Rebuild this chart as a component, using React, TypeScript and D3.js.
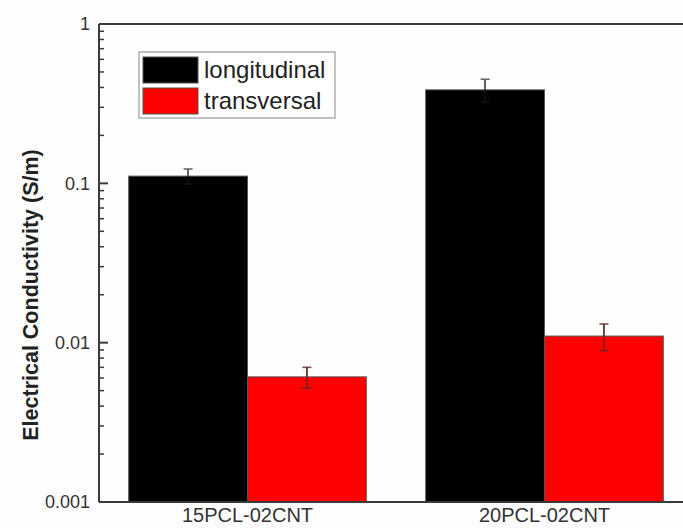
import React from "react";
import * as d3 from "d3";

const categories = ["15PCL-02CNT", "20PCL-02CNT"];
const seriesNames = ["longitudinal", "transversal"];
const seriesColors = ["#000000", "#ff0000"];
const longitudinal = [0.111, 0.386];
const longitudinalErr = [0.012, 0.064];
const transversal = [0.0061, 0.011];
const transversalErr = [0.0009, 0.0021];
const yTicks = [1, 0.1, 0.01, 0.001];
const yTickLabels = ["1", "0.1", "0.01", "0.001"];

const W = 683;
const H = 528;
const left = 99;
const right = 693;
const top = 24;
const bottom = 502;

export default function App() {
  const x = d3.scaleBand<string>().domain(categories).range([left, right]).paddingInner(0.2).paddingOuter(0.1);
  const xs = d3.scaleBand<string>().domain(seriesNames).range([0, x.bandwidth()]);
  const y = d3.scaleLog().domain([0.001, 1]).range([bottom, top]);

  const minor: number[] = [];
  for (const dec of [0.001, 0.01, 0.1]) {
    for (let k = 2; k <= 9; k++) minor.push(dec * k);
  }

  const series = [
    { name: seriesNames[0], vals: longitudinal, errs: longitudinalErr, color: seriesColors[0] },
    { name: seriesNames[1], vals: transversal, errs: transversalErr, color: seriesColors[1] },
  ];

  const font = "Liberation Sans, Arial, sans-serif";
  const axisColor = "#3a3a3a";

  return (
    <svg width={W} height={H} style={{ position: "absolute", left: 0, top: 0, background: "#fdfdfd" }}>
      {/* bars */}
      {series.map((s) =>
        categories.map((c, i) => {
          const bx = (x(c) as number) + (xs(s.name) as number);
          const by = y(s.vals[i]);
          return (
            <rect key={s.name + c} x={bx} y={by} width={xs.bandwidth()} height={bottom - by}
              fill={s.color} stroke="#555" strokeWidth={1} />
          );
        })
      )}
      {/* error bars */}
      {series.map((s) =>
        categories.map((c, i) => {
          const cx = (x(c) as number) + (xs(s.name) as number) + xs.bandwidth() / 2;
          const yt = y(s.vals[i] + s.errs[i]);
          const yb = y(s.vals[i] - s.errs[i]);
          const col = s.color === "#ff0000" ? "rgba(90,40,40,0.8)" : "#111";
          const capCol = s.color === "#ff0000" ? "rgba(90,40,40,0.8)" : "#666";
          return (
            <g key={"e" + s.name + c} strokeWidth={1.6}>
              <line x1={cx} x2={cx} y1={yt} y2={yb} stroke={col} />
              <line x1={cx} x2={cx} y1={yt} y2={y(s.vals[i])} stroke={capCol} />
              <line x1={cx - 4.5} x2={cx + 4.5} y1={yt} y2={yt} stroke={capCol} />
              <line x1={cx - 4.5} x2={cx + 4.5} y1={yb} y2={yb} stroke={col} />
            </g>
          );
        })
      )}
      {/* frame */}
      <line x1={left} x2={right} y1={top} y2={top} stroke={axisColor} strokeWidth={2} />
      <line x1={left} x2={right} y1={bottom} y2={bottom} stroke={axisColor} strokeWidth={2} />
      <line x1={left} x2={left} y1={top} y2={bottom} stroke={axisColor} strokeWidth={2} />
      <line x1={right} x2={right} y1={top} y2={bottom} stroke={axisColor} strokeWidth={2} />
      {/* ticks */}
      {yTicks.map((t) => (
        <g key={"t" + t}>
          <line x1={left} x2={left + 9} y1={y(t)} y2={y(t)} stroke={axisColor} strokeWidth={2} />
          <line x1={right} x2={right - 10} y1={y(t)} y2={y(t)} stroke={axisColor} strokeWidth={2} />
        </g>
      ))}
      {minor.map((t) => (
        <g key={"m" + t}>
          <line x1={left} x2={left + 5} y1={y(t)} y2={y(t)} stroke={axisColor} strokeWidth={1.5} />
          <line x1={right} x2={right - 5} y1={y(t)} y2={y(t)} stroke={axisColor} strokeWidth={1.5} />
        </g>
      ))}
      {yTicks.map((t, i) => (
        <text key={"l" + t} x={90} y={y(t)} dy="0.35em" textAnchor="end" fontFamily={font} fontSize={18} fill="#333">
          {yTickLabels[i]}
        </text>
      ))}
      {categories.map((c) => (
        <text key={"c" + c} x={(x(c) as number) + x.bandwidth() / 2} y={522} textAnchor="middle" fontFamily={font} fontSize={20} fill="#333">
          {c}
        </text>
      ))}
      <text transform={`translate(38,295) rotate(-90)`} textAnchor="middle" fontFamily={font} fontSize={21.5} fontWeight="bold" fill="#222">
        Electrical Conductivity (S/m)
      </text>
      {/* legend */}
      <rect x={139} y={52} width={196} height={66} fill="#fff" stroke="#999" strokeWidth={1.2} />
      {series.map((s, i) => (
        <g key={"lg" + s.name}>
          <rect x={143} y={57 + i * 31} width={55} height={26} fill={s.color} stroke="#555" strokeWidth={1} />
          <text x={204} y={70 + i * 31} dy="0.35em" fontFamily={font} fontSize={24} fill="#222">
            {s.name}
          </text>
        </g>
      ))}
    </svg>
  );
}
